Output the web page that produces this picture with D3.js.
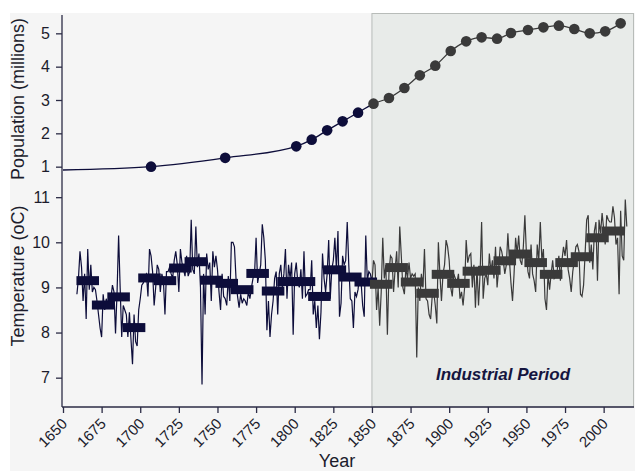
<!DOCTYPE html>
<html>
<head>
<meta charset="utf-8">
<script src="https://cdn.jsdelivr.net/npm/d3@7"></script>
<style>
  body { margin: 0; background: #fff; }
  svg { display: block; font-family: "Liberation Sans", Arial, sans-serif; }
</style>
</head>
<body>
<div id="chart"></div>
<script>
// population (millions), census years
var popYears  = [1650, 1707, 1755, 1801, 1811, 1821, 1831, 1841, 1851, 1861, 1871, 1881, 1891, 1901,
                 1911, 1921, 1931, 1940, 1951, 1961, 1971, 1981, 1991, 2001, 2011];
var popValues = [0.9, 1.0, 1.265, 1.61, 1.81, 2.09, 2.36, 2.62, 2.89, 3.06, 3.36, 3.74, 4.03, 4.47,
                 4.76, 4.88, 4.84, 5.01, 5.10, 5.18, 5.23, 5.13, 5.00, 5.06, 5.30];

// annual mean temperature, one value per year from tempFirstYear
var tempFirstYear = 1659;
var tempAnnual = [
  8.85,
  9.2, 9.8, 9.45, 8.7, 9.3, 8.3, 9.85, 8.95, 9.5, 8.9,
  9.0, 8.95, 8.7, 8.4, 8.1, 7.9, 8.85, 8.5, 8.75, 8.6,
  8.6, 8.75, 9.05, 8.9, 7.98, 8.9, 10.15, 9.0, 7.9, 8.6,
  8.5, 8.4, 7.9, 8.45, 7.85, 7.3, 8.4, 7.8, 7.7, 8.5,
  8.75, 9.05, 9.1, 9.25, 9.3, 8.8, 9.85, 9.7, 9.35, 8.6,
  9.0, 9.5, 9.4, 8.9, 9.3, 9.15, 8.4, 9.35, 9.35, 9.45,
  9.3, 9.2, 9.6, 9.8, 9.5, 8.9, 9.85, 9.55, 9.4, 9.25,
  9.7, 9.25, 9.35, 10.5, 9.4, 9.3, 10.35, 9.45, 9.75, 9.0,
  6.85, 9.3, 8.4, 9.75, 9.4, 9.55, 8.7, 9.8, 9.45, 9.7,
  9.4, 8.9, 8.5, 9.3, 8.8, 8.75, 8.6, 9.25, 8.7, 10.0,
  10.0, 9.9, 9.2, 8.8, 8.55, 8.85, 8.65, 8.75, 8.7, 8.6,
  8.9, 8.75, 9.0, 9.2, 9.3, 10.1, 9.1, 9.3, 9.5, 10.4,
  10.1, 9.6, 8.05, 8.7, 7.9, 8.4, 8.7, 9.2, 9.35, 8.4,
  9.3, 9.5, 9.0, 9.3, 9.85, 8.75, 9.5, 9.2, 9.55, 7.95,
  9.3, 9.55, 9.1, 9.0, 9.4, 8.75, 9.8, 8.8, 8.85, 8.95,
  8.95, 9.6, 8.4, 8.7, 8.1, 8.6, 7.85, 8.45, 9.75, 9.2,
  8.9, 9.3, 10.05, 8.75, 9.4, 9.6, 10.1, 9.4, 10.25, 8.35,
  8.65, 9.7, 9.5, 9.6, 10.45, 9.5, 8.75, 8.7, 8.1, 8.9,
  8.8, 8.95, 9.3, 9.1, 8.6, 8.35, 10.15, 9.15, 9.35, 9.3,
  9.1, 9.6, 9.5, 8.5, 9.0, 8.15, 8.9, 10.1, 9.2, 9.5,
  7.95, 9.3, 9.7, 9.65, 8.9, 9.4, 9.8, 9.0, 10.35, 9.7,
  9.0, 8.85, 9.45, 9.2, 9.55, 9.2, 9.3, 9.25, 9.3, 7.45,
  9.0, 8.7, 9.3, 9.0, 9.85, 8.75, 8.7, 8.4, 8.3, 8.8,
  8.9, 8.6, 8.2, 10.0, 9.3, 8.7, 9.3, 9.5, 10.05, 9.9,
  9.6, 9.0, 8.8, 9.3, 9.2, 9.1, 9.3, 8.75, 8.9, 8.6,
  9.0, 10.05, 9.55, 9.7, 9.75, 9.0, 9.5, 8.55, 9.45, 8.6,
  9.3, 10.45, 8.75, 9.2, 9.3, 9.05, 9.75, 9.35, 9.6, 9.2,
  9.9, 9.0, 9.4, 9.9, 9.8, 9.6, 9.3, 9.5, 10.2, 9.6,
  9.1, 8.7, 9.3, 10.1, 9.75, 10.15, 9.6, 9.5, 9.9, 10.6,
  9.75, 9.35, 9.2, 9.95, 9.3, 9.15, 8.9, 9.95, 9.6, 10.45,
  9.6, 9.85, 8.75, 8.5, 9.3, 8.95, 9.3, 9.6, 9.2, 9.25,
  9.4, 9.7, 9.15, 9.6, 9.9, 9.7, 10.05, 9.4, 9.2, 8.9,
  9.35, 9.6, 9.9, 9.95, 9.8, 8.85, 8.8, 9.05, 9.75, 10.5,
  10.6, 9.55, 9.95, 9.4, 10.25, 10.45, 9.15, 10.5, 10.2, 10.65,
  10.3, 9.95, 10.6, 10.5, 10.45, 10.45, 10.8, 10.55, 9.95, 10.1,
  8.85, 10.7, 9.7, 9.6, 10.95, 10.35
];

// decadal means (decade start year)
var decadeStarts = [1660, 1670, 1680, 1690, 1700, 1710, 1720, 1730, 1740, 1750, 1760, 1770,
                    1780, 1790, 1800, 1810, 1820, 1830, 1840, 1850, 1860, 1870, 1880, 1890,
                    1900, 1910, 1920, 1930, 1940, 1950, 1960, 1970, 1980, 1990, 2000];
var decadeMeans  = [9.15, 8.61, 8.79, 8.11, 9.21, 9.15, 9.43, 9.57, 9.16, 9.09, 8.95, 9.31,
                    8.92, 9.13, 9.13, 8.80, 9.39, 9.23, 9.12, 9.07, 9.44, 9.12, 8.87, 9.29,
                    9.09, 9.36, 9.38, 9.59, 9.74, 9.55, 9.29, 9.55, 9.68, 10.10, 10.25];

var xTicks = [1650, 1675, 1700, 1725, 1750, 1775, 1800, 1825, 1850, 1875, 1900, 1925, 1950, 1975, 2000];
var popTicks = [1, 2, 3, 4, 5];
var tempTicks = [7, 8, 9, 10, 11];
var industrialStart = 1850;

var navy = "#0d0d3a", grey = "#3a3a3a";

var svg = d3.select("#chart").append("svg")
    .attr("width", 635).attr("height", 471);

// background
svg.append("rect").attr("x", 10).attr("y", 13).attr("width", 625).attr("height", 458)
    .attr("fill", "#f5f5f5");

// scales
var x = d3.scaleLinear().domain([1650, 2019]).range([63, 633]);
var yPop = d3.scaleLinear().domain([0.45, 5.55]).range([185, 15]);
var yTemp = d3.scaleLinear().domain([6.35, 11.27]).range([407, 185]);

// industrial period shading
svg.append("rect")
    .attr("x", x(industrialStart)).attr("y", 13.5)
    .attr("width", 633.5 - x(industrialStart)).attr("height", 407 - 13.5)
    .attr("fill", "#e8ebe9").attr("stroke", "#b8bcb9").attr("stroke-width", 1);

svg.append("text")
    .attr("x", 503).attr("y", 380)
    .attr("text-anchor", "middle")
    .style("font-size", "17px").style("font-weight", "bold").style("font-style", "italic")
    .attr("fill", "#15153f")
    .text("Industrial Period");

// clip paths for before / after 1850
var defs = svg.append("defs");
defs.append("clipPath").attr("id", "pre")
  .append("rect").attr("x", 0).attr("y", 0).attr("width", x(industrialStart)).attr("height", 471);
defs.append("clipPath").attr("id", "post")
  .append("rect").attr("x", x(industrialStart)).attr("y", 0).attr("width", 635).attr("height", 471);

// temperature
var tempData = tempAnnual.map(function(v, i) { return {year: tempFirstYear + i, value: v}; });
var tempLine = d3.line()
    .x(function(d) { return x(d.year); })
    .y(function(d) { return yTemp(d.value); });

[["pre", navy], ["post", grey]].forEach(function(p) {
    svg.append("path")
        .datum(tempData)
        .attr("clip-path", "url(#" + p[0] + ")")
        .attr("fill", "none")
        .attr("stroke", p[1])
        .attr("stroke-width", 1.2)
        .attr("d", tempLine);
});

var decades = decadeStarts.map(function(s, i) { return {start: s, value: decadeMeans[i]}; });
svg.selectAll(".decade")
    .data(decades)
  .enter().append("rect")
    .attr("class", "decade")
    .attr("x", function(d) { return x(d.start + 6 - 7.3); })
    .attr("width", function(d) { return x(d.start + 6 + 7.3) - x(d.start + 6 - 7.3); })
    .attr("y", function(d) { return yTemp(d.value) - 4.5; })
    .attr("height", 9)
    .attr("fill", function(d) { return d.start >= industrialStart ? grey : navy; });

// population
var popData = popYears.map(function(yr, i) { return {year: yr, value: popValues[i]}; });
var popLine = d3.line()
    .curve(d3.curveMonotoneX)
    .x(function(d) { return x(d.year); })
    .y(function(d) { return yPop(d.value); });

[["pre", navy], ["post", grey]].forEach(function(p) {
    svg.append("path")
        .datum(popData)
        .attr("clip-path", "url(#" + p[0] + ")")
        .attr("fill", "none")
        .attr("stroke", p[1])
        .attr("stroke-width", 1.3)
        .attr("d", popLine);
});

svg.selectAll(".dot")
    .data(popData.slice(1))
  .enter().append("circle")
    .attr("class", "dot")
    .attr("cx", function(d) { return x(d.year); })
    .attr("cy", function(d) { return yPop(d.value); })
    .attr("r", 5.3)
    .attr("fill", function(d) { return d.year >= industrialStart ? grey : navy; });

// axes
var axisColor = "#2b2b45";
svg.append("line")
    .attr("x1", 62).attr("x2", 62).attr("y1", 15).attr("y2", 407)
    .attr("stroke", axisColor).attr("stroke-width", 1.3);

var gPop = svg.append("g").attr("transform", "translate(62,0)")
    .call(d3.axisLeft(yPop).tickValues(popTicks).tickSize(6).tickPadding(6).tickFormat(d3.format("d")));
var gTemp = svg.append("g").attr("transform", "translate(62,0)")
    .call(d3.axisLeft(yTemp).tickValues(tempTicks).tickSize(6).tickPadding(6).tickFormat(d3.format("d")));
[gPop, gTemp].forEach(function(g) {
    g.select(".domain").remove();
    g.selectAll("line").attr("stroke", axisColor).attr("stroke-width", 1.3);
    g.selectAll("text").attr("fill", "#1c1c2c").style("font-size", "16px");
});

var gx = svg.append("g").attr("transform", "translate(0,407)")
    .call(d3.axisBottom(x).tickValues(xTicks).tickSize(6).tickFormat(d3.format("d")));
gx.select(".domain").attr("d", "M62,0H634").attr("stroke", axisColor).attr("stroke-width", 1.3);
gx.selectAll("line").attr("stroke", axisColor).attr("stroke-width", 1.3);
gx.selectAll("text")
    .attr("fill", "#1c1c2c")
    .style("font-size", "15px")
    .attr("text-anchor", "end")
    .attr("x", 0).attr("y", 0)
    .attr("dy", "0.35em")
    .attr("transform", "translate(1,14) rotate(-45)");

// axis titles
svg.append("text")
    .attr("transform", "translate(24,99) rotate(-90)")
    .attr("text-anchor", "middle")
    .style("font-size", "18px").attr("fill", "#1c1c2c")
    .text("Population (millions)");
svg.append("text")
    .attr("transform", "translate(24,276) rotate(-90)")
    .attr("text-anchor", "middle")
    .style("font-size", "18px").attr("fill", "#1c1c2c")
    .text("Temperature (oC)");
svg.append("text")
    .attr("x", 337).attr("y", 467)
    .attr("text-anchor", "middle")
    .style("font-size", "18px").attr("fill", "#1c1c2c")
    .text("Year");
</script>
</body>
</html>
